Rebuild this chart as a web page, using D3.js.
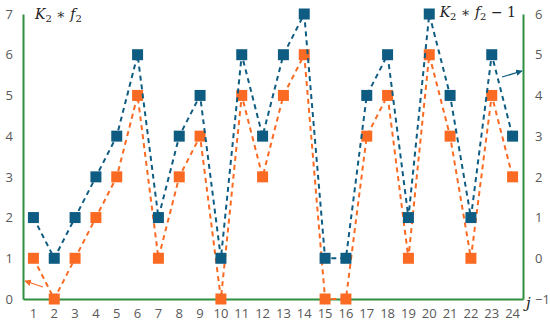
<!DOCTYPE html>
<html>
<head>
<meta charset="utf-8">
<script src="https://cdn.jsdelivr.net/npm/d3@7"></script>
<style>
  body { margin: 0; background: #fff; }
  svg { display: block; }
  .tick text { font-family: "Open Sans", "Liberation Sans", sans-serif; font-size: 13px; fill: #595959; }
</style>
</head>
<body>
<svg id="graph" width="550" height="327"></svg>
<script>
// chart data
var categories = d3.range(1, 25);
var blueValues = [2, 1, 2, 3, 4, 6, 2, 4, 5, 1, 6, 4, 6, 7, 1, 1, 5, 6, 2, 7, 5, 2, 6, 4];      // K2*f2, left axis
var orangeValues = [0, -1, 0, 1, 2, 4, 0, 2, 3, -1, 4, 2, 4, 5, -1, -1, 3, 4, 0, 5, 3, 0, 4, 2]; // K2*f2-1, right axis
var leftTicks = [0, 1, 2, 3, 4, 5, 6, 7];
var rightTicks = [-1, 0, 1, 2, 3, 4, 5, 6];

var WIDTH = 550, HEIGHT = 327;
var MARGINS = { top: 14, right: 27, bottom: 28, left: 23 };
var BLUE = '#0e5c82', ORANGE = '#fb6a22', GREEN = '#2f8f3f';

var vis = d3.select('#graph');

var xRange = d3.scaleBand()
  .domain(categories)
  .range([MARGINS.left, WIDTH - MARGINS.right]);

var yLeft = d3.scaleLinear().domain([0, 7])
  .range([HEIGHT - MARGINS.bottom, MARGINS.top]);
var yRight = d3.scaleLinear().domain([-1, 6])
  .range([HEIGHT - MARGINS.bottom, MARGINS.top]);

// axes
var xAxis = d3.axisBottom(xRange).tickSize(0).tickPadding(10);
vis.append('g')
  .attr('transform', 'translate(0,' + (HEIGHT - MARGINS.bottom) + ')')
  .call(xAxis)
  .call(function (g) { g.select('.domain').attr('stroke', GREEN).attr('stroke-width', 2); });

vis.append('g')
  .attr('transform', 'translate(' + MARGINS.left + ',0)')
  .call(d3.axisLeft(yLeft).tickValues(leftTicks).tickSize(0).tickPadding(10)
    .tickFormat(d3.format('d')))
  .call(function (g) { g.select('.domain').attr('stroke', GREEN).attr('stroke-width', 2); });

vis.append('g')
  .attr('transform', 'translate(' + (WIDTH - MARGINS.right) + ',0)')
  .call(d3.axisRight(yRight).tickValues(rightTicks).tickSize(0).tickPadding(12)
    .tickFormat(function (d) { return d < 0 ? '\u2212' + Math.abs(d) : d; }))
  .call(function (g) { g.select('.domain').attr('stroke', GREEN).attr('stroke-width', 2); });

function cx(i) { return xRange(categories[i]) + xRange.bandwidth() / 2; }

function drawSeries(values, yScale, color) {
  var lineGen = d3.line()
    .x(function (d, i) { return cx(i); })
    .y(function (d) { return yScale(d); });

  vis.append('path')
    .attr('d', lineGen(values))
    .attr('fill', 'none')
    .attr('stroke', color)
    .attr('stroke-width', 2)
    .attr('stroke-dasharray', '5,4');

  vis.append('g').selectAll('rect')
    .data(values)
    .enter().append('rect')
    .attr('x', function (d, i) { return cx(i) - 5.5; })
    .attr('y', function (d) { return yScale(d) - 5.5; })
    .attr('width', 11)
    .attr('height', 11)
    .attr('fill', color);
}

drawSeries(orangeValues, yRight, ORANGE);
drawSeries(blueValues, yLeft, BLUE);

// arrows pointing to the axis each series belongs to
var defs = vis.append('defs');
[['arrOrange', ORANGE], ['arrBlue', BLUE]].forEach(function (m) {
  defs.append('marker')
    .attr('id', m[0])
    .attr('viewBox', '0 0 10 10')
    .attr('refX', 9).attr('refY', 5)
    .attr('markerWidth', 5).attr('markerHeight', 5)
    .attr('orient', 'auto')
    .append('path').attr('d', 'M0,0L10,5L0,10z').attr('fill', m[1]);
});

vis.append('line')
  .attr('x1', 43).attr('y1', 287).attr('x2', 25).attr('y2', 281)
  .attr('stroke', ORANGE).attr('stroke-width', 1.3)
  .attr('marker-end', 'url(#arrOrange)');

vis.append('line')
  .attr('x1', 502).attr('y1', 77).attr('x2', 522).attr('y2', 71)
  .attr('stroke', BLUE).attr('stroke-width', 1.3)
  .attr('marker-end', 'url(#arrBlue)');

// labels
var mathFont = '"DejaVu Serif", "Liberation Serif", serif';
function mathLabel(x, y, anchor, minus) {
  var t = vis.append('text')
    .attr('x', x).attr('y', y)
    .attr('text-anchor', anchor)
    .attr('font-family', mathFont)
    .attr('font-size', 14)
    .attr('fill', '#222');
  t.append('tspan').attr('font-style', 'italic').text('K');
  t.append('tspan').attr('font-size', 10).attr('dy', 3).text('2');
  t.append('tspan').attr('dy', -3).text(' \u2217 ');
  t.append('tspan').attr('font-style', 'italic').text('f');
  t.append('tspan').attr('font-size', 10).attr('dy', 3).text('2');
  if (minus) t.append('tspan').attr('dy', -3).text(' \u2212 1');
}
mathLabel(35, 19, 'start', false);
mathLabel(516, 17, 'end', true);

vis.append('text')
  .attr('x', 526).attr('y', 308)
  .attr('font-family', mathFont)
  .attr('font-style', 'italic')
  .attr('font-size', 15)
  .attr('fill', '#222')
  .text('j');
</script>
</body>
</html>
